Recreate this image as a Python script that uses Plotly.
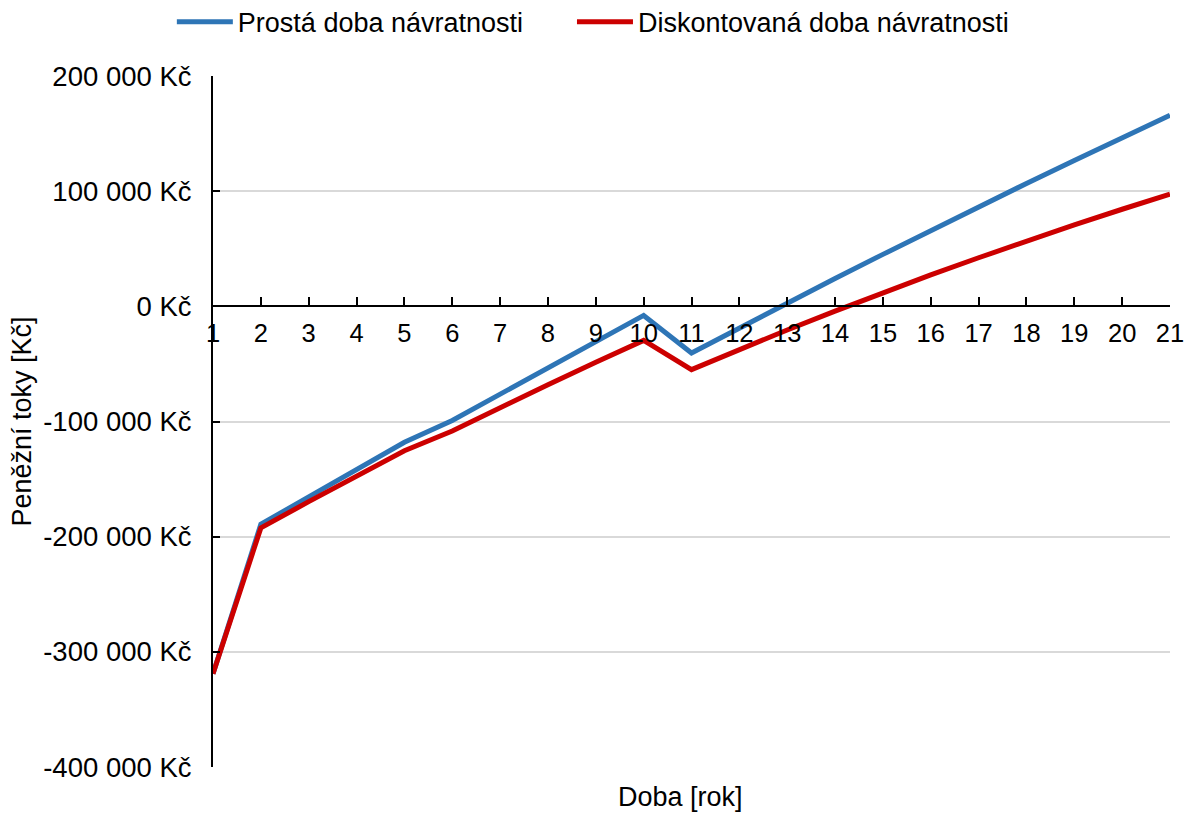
import plotly.graph_objects as go

# Years of operation
years = list(range(1, 22))

# Cumulative cash flow, simple payback [Kč]
simple_cf = [-319000, -189200, -165500, -141800, -118100, -99100, -76300, -53500,
             -30700, -7900, -40500, -18700, 2800, 24100, 45100, 65900, 86400,
             106700, 126700, 146500, 166000]

# Cumulative cash flow, discounted payback [Kč]
discounted_cf = [-319000, -192400, -169600, -147300, -125400, -108200, -87900,
                 -68100, -48600, -29600, -55000, -37500, -20500, -4100, 11900,
                 27300, 42200, 56700, 70700, 84300, 97400]

y_tick_vals = [-400000, -300000, -200000, -100000, 0, 100000, 200000]
y_tick_text = ["-400 000 Kč", "-300 000 Kč", "-200 000 Kč", "-100 000 Kč",
               "0 Kč", "100 000 Kč", "200 000 Kč"]

series_names = ["Prostá doba návratnosti", "Diskontovaná doba návratnosti"]
series_colors = ["#2E75B6", "#CC0000"]
series_legends = ["legend", "legend2"]

FONT = "Liberation Sans, Arial, sans-serif"

fig = go.Figure()
for name, vals, color, lg in zip(series_names, [simple_cf, discounted_cf],
                                 series_colors, series_legends):
    fig.add_trace(go.Scatter(
        x=years, y=vals, name=name, mode="lines",
        line=dict(color=color, width=5), legend=lg,
    ))

Y_MIN, Y_MAX = -400000, 200000
zero_pos = (0 - Y_MIN) / (Y_MAX - Y_MIN)

legend_style = dict(
    orientation="h", xanchor="left", y=1.078, yanchor="middle",
    font=dict(family=FONT, size=27, color="#000000"),
    itemwidth=56, bgcolor="rgba(0,0,0,0)",
)

fig.update_layout(
    width=1186, height=814,
    margin=dict(l=213, r=16, t=76, b=47, autoexpand=False),
    paper_bgcolor="white", plot_bgcolor="white",
    font=dict(family=FONT, size=27, color="#000000"),
    showlegend=True,
    legend=dict(x=-0.043, **legend_style),
    legend2=dict(x=0.3751, **legend_style),
    xaxis=dict(
        range=[1, 21], tickvals=years, ticktext=[str(v) for v in years],
        anchor="free", position=zero_pos, side="bottom",
        showline=True, linecolor="#000000", linewidth=2,
        ticks="inside", ticklen=8, tickwidth=1.5, tickcolor="#000000",
        showgrid=False, zeroline=False,
        tickfont=dict(family=FONT, size=25.5, color="#000000"),
        ticklabelstandoff=4,
    ),
    yaxis=dict(
        range=[Y_MIN, Y_MAX], tickvals=y_tick_vals, ticktext=y_tick_text,
        showline=True, linecolor="#000000", linewidth=2,
        ticks="inside", ticklen=7, tickwidth=2, tickcolor="#000000",
        showgrid=True, gridcolor="#D9D9D9", gridwidth=1.5,
        zeroline=False,
        tickfont=dict(family=FONT, size=27.5, color="#000000"),
        ticklabelstandoff=14,
    ),
    annotations=[
        dict(text="Peněžní toky [Kč]", xref="paper", yref="paper",
             x=-0.1996, y=0.5, xanchor="center", yanchor="middle",
             textangle=-90, showarrow=False,
             font=dict(family=FONT, size=27, color="#000000")),
        dict(text="Doba [rok]", xref="paper", yref="paper",
             x=0.489, y=-0.0441, xanchor="center", yanchor="middle",
             showarrow=False,
             font=dict(family=FONT, size=27, color="#000000")),
    ],
)

fig.write_html("out.html")
